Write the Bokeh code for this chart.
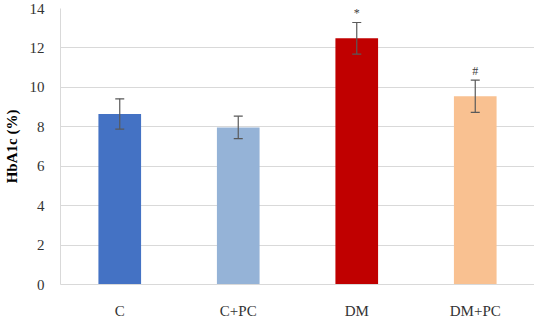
from bokeh.plotting import figure
from bokeh.models import ColumnDataSource, Whisker, Range1d, FixedTicker
from bokeh.models import TeeHead
from bokeh.core.properties import value
from bokeh.embed import file_html
from bokeh.resources import INLINE

categories = ["C", "C+PC", "DM", "DM+PC"]
means = [8.65, 7.97, 12.49, 9.55]
errors = [0.77, 0.57, 0.8, 0.82]
colors = ["#4472C4", "#95B3D7", "#C00000", "#F9C191"]
marks = ["", "", "*", "#"]
y_ticks = [0, 2, 4, 6, 8, 10, 12, 14]

upper = [m + e for m, e in zip(means, errors)]
lower = [m - e for m, e in zip(means, errors)]
mark_y = [u + 0.12 for u in upper]

src = ColumnDataSource(dict(cat=categories, mean=means, upper=upper, lower=lower,
                            color=colors, mark=marks, mark_y=mark_y))

FONT = "Liberation Serif"

p = figure(x_range=categories, y_range=Range1d(0, 14),
           width=534, height=321, output_backend="svg", toolbar_location=None,
           min_border_left=52, min_border_right=0, min_border_top=8, min_border_bottom=30)

p.vbar(x="cat", top="mean", width=0.36, color="color", line_color=None, source=src)

wh = Whisker(base="cat", upper="upper", lower="lower", source=src,
             line_color="#595959", line_width=1.2, level="overlay")
wh.upper_head = TeeHead(size=9, line_color="#595959", line_width=1.2)
wh.lower_head = TeeHead(size=9, line_color="#595959", line_width=1.2)
p.add_layout(wh)

p.text(x="cat", y="mark_y", text="mark", source=src, text_align="center",
       text_baseline="bottom", text_font=value(FONT), text_font_size="12px",
       text_color="#404040")

p.outline_line_color = None
p.xgrid.grid_line_color = None
p.ygrid.grid_line_color = "#d9d9d9"
p.ygrid.grid_line_width = 1

p.yaxis.ticker = FixedTicker(ticks=y_ticks)
p.yaxis.axis_label = "HbA1c (%)"
p.yaxis.axis_label_text_font = FONT
p.yaxis.axis_label_text_font_style = "bold"
p.yaxis.axis_label_text_font_size = "15px"
p.yaxis.axis_label_text_color = "#000000"
p.yaxis.axis_label_standoff = 7
p.yaxis.major_label_text_font = FONT
p.yaxis.major_label_text_font_size = "15px"
p.yaxis.major_label_text_color = "#333333"
p.yaxis.major_label_standoff = 10
p.yaxis.axis_line_color = "#d9d9d9"
p.yaxis.major_tick_line_color = None
p.yaxis.minor_tick_line_color = None

p.xaxis.major_label_text_font = FONT
p.xaxis.major_label_text_font_size = "15px"
p.xaxis.major_label_text_color = "#333333"
p.xaxis.major_label_standoff = 12
p.xaxis.axis_line_color = "#d9d9d9"
p.xaxis.major_tick_line_color = None
p.xaxis.minor_tick_line_color = None

open("out.html", "w").write(file_html(p, INLINE))
